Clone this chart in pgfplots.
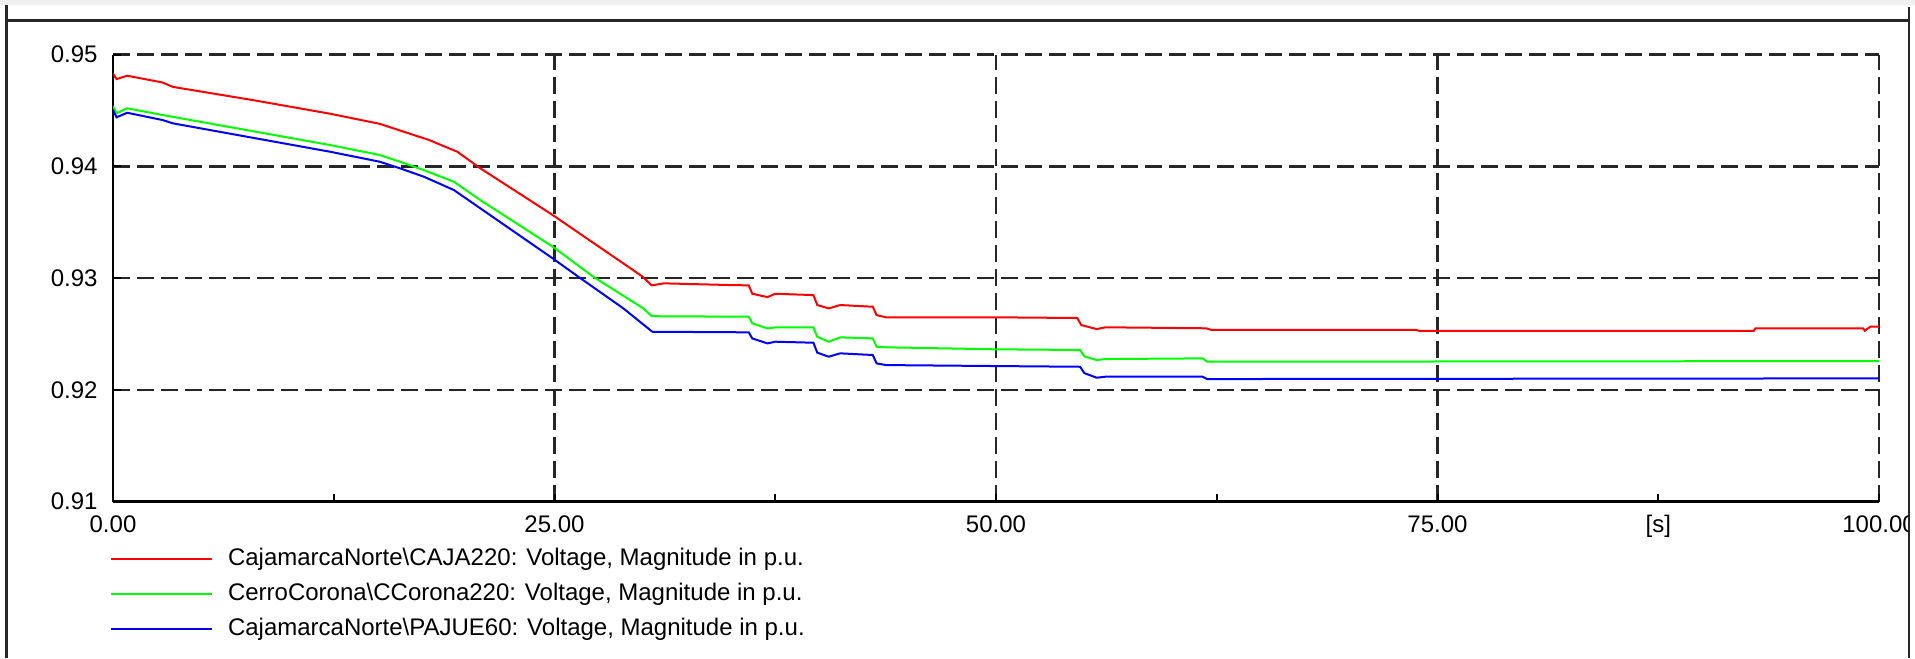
\documentclass[border=0pt]{standalone}
\usepackage{fontspec}
\setmainfont{Liberation Sans}
\usepackage{pgfplots}
\pgfplotsset{compat=1.18}
\begin{document}
\begin{tikzpicture}
\useasboundingbox (0,0) rectangle (957.5pt,329pt);
\fill[black!6] (0,326.5pt) rectangle (957.5pt,329pt);
\begin{axis}[
  at={(56.5pt,78.15pt)}, anchor=south west,
  width=883pt, height=223.6pt, scale only axis,
  xmin=0, xmax=100, ymin=0.91, ymax=0.95,
  axis x line=bottom, axis y line=left,
  axis line style={-, line width=1.3pt, black},
  xtick={0,25,50,75,100}, xticklabels={0.00,25.00,50.00,75.00,100.00},
  extra x ticks={87.5}, extra x tick labels={[s]}, extra x tick style={grid=none},
  minor xtick={12.5,37.5,62.5},
  ytick={0.91,0.92,0.93,0.94,0.95}, yticklabels={0.91,0.92,0.93,0.94,0.95},
  tick align=inside, major tick length=4pt, minor tick length=4pt,
  tick style={black, line width=1pt},
  grid=major,
  major grid style={dash pattern=on 8.5pt off 3.5pt, line width=1.3pt, black!85},
  ticklabel style={font=\fontsize{12}{14}\selectfont, inner sep=0pt},
  xticklabel style={yshift=-6.7pt, anchor=north},
  yticklabel style={xshift=-7.5pt, anchor=east},
  legend style={at={(axis description cs:-0.0017,-0.088)}, anchor=north west,
    draw=none, fill=none, inner sep=0pt, outer sep=0pt, row sep=0pt, column sep=7.5pt,
    font=\fontsize{12}{14}\selectfont,
    nodes={inner sep=0pt, minimum height=17.5pt}},
  legend cell align=left,
  legend image code/.code={\draw[#1, line width=1pt] (0pt,0pt) -- (50.5pt,0pt);},
]
\addplot[red, line width=1pt] coordinates {
(0,0.9483) (0.2,0.9478) (0.8,0.9481) (2.8,0.9475) (3.4,0.9471) (8,0.9459)
(12.3,0.9447) (15.1,0.9438) (17.9,0.94235) (19.5,0.9413) (20.8,0.93982)
(24.9,0.93564) (30.0,0.93012) (30.5,0.92935) (31.2,0.92953) (34.9,0.92938)
(36.0,0.92935) (36.2,0.9286) (37.06,0.9283) (37.5,0.9286) (39.66,0.92848)
(39.88,0.92759) (40.53,0.92729) (41.18,0.92759) (43.02,0.92744) (43.24,0.92669)
(43.78,0.92649) (50.2,0.92649) (54.6,0.92643) (54.83,0.9258) (55.7,0.92544)
(56.2,0.9256) (61.9,0.92551) (62.2,0.92536) (73.8,0.92536) (74.0,0.92527)
(92.9,0.92527) (93.0,0.9255) (99.1,0.9255) (99.2,0.92529) (99.5,0.92565) (100,0.92565)
};
\addlegendentry{CajamarcaNorte\textbackslash CAJA220: Voltage, Magnitude in p.u.}
\addplot[green, line width=1pt] coordinates {
(0,0.94539) (0.2,0.94474) (0.8,0.94519) (2.8,0.94459) (12.3,0.9419) (15.1,0.94101)
(16.25,0.94041) (17.6,0.93966) (19.3,0.93862) (20.8,0.93698) (24.9,0.93281)
(27.2,0.93012) (30.03,0.92729) (30.5,0.9266) (31.2,0.92658) (36.0,0.92655)
(36.2,0.92595) (37.06,0.9255) (37.5,0.92559) (39.66,0.92559) (39.88,0.92475)
(40.53,0.92431) (41.18,0.9247) (43.02,0.92461) (43.24,0.92386) (43.78,0.92381)
(50,0.92363) (54.76,0.92357) (55.0,0.9230) (55.7,0.92267) (56.2,0.92276)
(61.7,0.92282) (61.96,0.92252) (100,0.92258)
};
\addlegendentry{CerroCorona\textbackslash CCorona220: Voltage, Magnitude in p.u.}
\addplot[blue, line width=1pt] coordinates {
(0,0.94504) (0.2,0.94438) (0.8,0.94479) (2.8,0.94414) (3.4,0.94384) (12.3,0.9413)
(15.1,0.94041) (16.25,0.93982) (17.6,0.93907) (19.3,0.93788) (20.8,0.93624)
(24.9,0.93176) (26.35,0.93012) (28.9,0.92729) (30.5,0.92525) (30.56,0.9252)
(36.0,0.92515) (36.2,0.9246) (37.06,0.92416) (37.5,0.92431) (39.66,0.92422)
(39.88,0.92333) (40.53,0.92297) (41.18,0.92327) (43.02,0.92312) (43.24,0.92237)
(43.78,0.92222) (50.2,0.92213) (54.76,0.92207) (55.0,0.9215) (55.7,0.92109)
(56.2,0.92118) (61.7,0.92118) (61.96,0.92097) (100,0.92103)
};
\addlegendentry{CajamarcaNorte\textbackslash PAJUE60: Voltage, Magnitude in p.u.}
\end{axis}
\fill[white] (955.2pt,0) rectangle (957.5pt,326.5pt);
\draw[black!85, line width=1.35pt] (3.35pt,0) -- (3.35pt,326.5pt);
\draw[black!85, line width=1.35pt] (3.35pt,318.65pt) -- (954.5pt,318.65pt);
\draw[black!85, line width=1.35pt] (954.5pt,0) -- (954.5pt,325.5pt);
\end{tikzpicture}
\end{document}
